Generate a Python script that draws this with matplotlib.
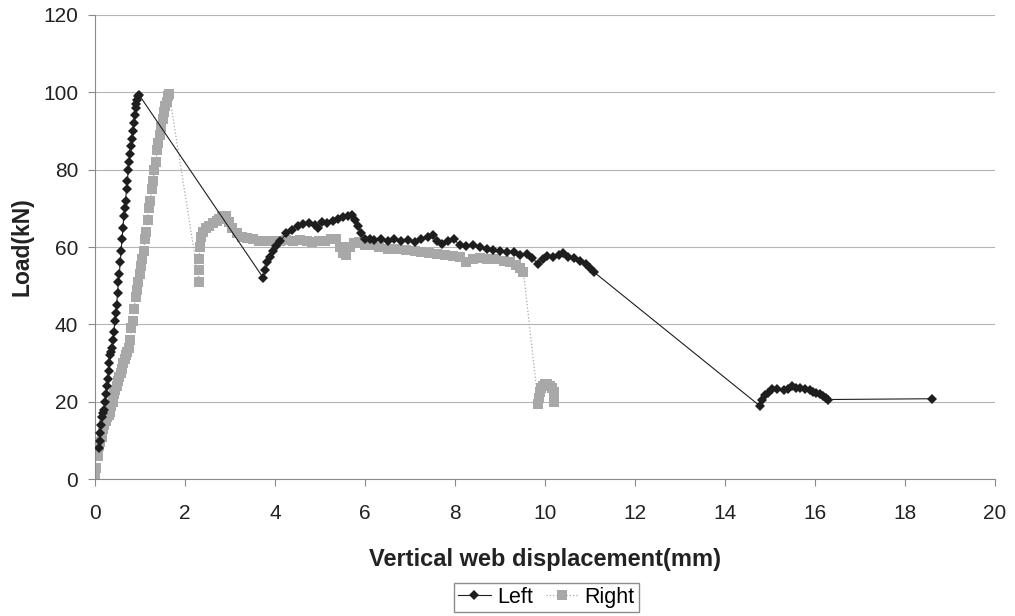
import matplotlib.pyplot as plt

plt.rcParams['font.family'] = ['Liberation Sans', 'DejaVu Sans']

# Left web displacement (mm) and load (kN)
left_x = [0.08, 0.10, 0.12, 0.14, 0.16, 0.18, 0.20, 0.22, 0.24, 0.26, 0.28, 0.30,
          0.32, 0.34, 0.36, 0.38, 0.40, 0.42, 0.44, 0.46, 0.48, 0.50, 0.52, 0.54,
          0.56, 0.58, 0.60, 0.62, 0.64, 0.66, 0.68, 0.70, 0.72, 0.74, 0.76, 0.78,
          0.80, 0.82, 0.84, 0.86, 0.88, 0.90, 0.92, 0.94, 0.96, 0.98,
          3.74, 3.78, 3.83, 3.88, 3.95, 4.02, 4.12, 4.25, 4.38, 4.50, 4.62, 4.75,
          4.88, 4.95, 5.05, 5.15, 5.28, 5.40, 5.52, 5.62, 5.72, 5.78, 5.85, 5.92,
          6.00, 6.10, 6.20, 6.35, 6.50, 6.65, 6.80, 6.95, 7.10, 7.25, 7.40, 7.50,
          7.60, 7.72, 7.85, 7.98, 8.10, 8.25, 8.40, 8.55, 8.70, 8.85, 9.00, 9.15,
          9.30, 9.45, 9.60, 9.72, 9.85, 9.95, 10.05, 10.18, 10.30, 10.40, 10.52,
          10.65, 10.78, 10.90, 11.00, 11.08,
          14.78, 14.82, 14.88, 14.95, 15.04, 15.15, 15.30, 15.40, 15.48, 15.58,
          15.66, 15.78, 15.88, 15.95, 16.02, 16.10, 16.18, 16.24, 16.28,
          18.60]
left_y = [8, 10, 12, 14, 16, 17, 18, 20, 22, 24, 26, 28,
          30, 32, 33, 34, 36, 38, 41, 43, 45, 48, 51, 53,
          56, 59, 62, 65, 68, 70, 72, 75, 77, 80, 82, 84,
          86, 88, 90, 92, 94, 96, 97, 98, 99, 99.3,
          52, 54, 56, 57.5, 59, 60.2, 61.5, 63.5, 64.5, 65.5, 66, 66.3,
          65.8, 64.8, 66.5, 66.2, 66.8, 67.2, 67.8, 68, 68.4, 67, 65.5, 63.5,
          62.2, 62, 61.8, 62, 61.5, 62, 61.5, 61.8, 61.2, 62, 62.6, 63.2,
          61.5, 60.8, 61.5, 62, 60.5, 60.2, 60.6, 60, 59.6, 59.2, 59, 58.6,
          58.6, 58, 58.2, 57.2, 55.5, 57, 57.6, 57.5, 58, 58.5, 57.4,
          57.2, 56.5, 55.5, 54.5, 53.6,
          18.9, 20.5, 21.8, 22.4, 23.2, 23.4, 23, 23.3, 24, 23.6,
          23.7, 23.2, 23, 22.6, 22.2, 22, 21.4, 21, 20.6,
          20.8]

# Right web displacement (mm) and load (kN)
right_x = [0.00, 0.03, 0.06, 0.09, 0.12, 0.15, 0.18, 0.21, 0.24, 0.27,
           0.30, 0.33, 0.36, 0.39, 0.42, 0.45, 0.48, 0.51, 0.54, 0.57,
           0.60, 0.63, 0.66, 0.69, 0.72, 0.75, 0.78, 0.81, 0.84, 0.87,
           0.90, 0.93, 0.96, 0.99, 1.02, 1.05, 1.08, 1.11, 1.14, 1.17,
           1.20, 1.23, 1.26, 1.29, 1.32, 1.35, 1.38, 1.41, 1.44, 1.47,
           1.50, 1.53, 1.56, 1.59, 1.62, 1.65,
           2.31, 2.31, 2.32, 2.33, 2.36, 2.40, 2.46, 2.54, 2.62, 2.70, 2.76, 2.83,
           2.90, 2.97, 3.05, 3.15, 3.27, 3.38, 3.50, 3.65, 3.80, 3.95, 4.10, 4.25,
           4.40, 4.55, 4.70, 4.83, 4.98, 5.12, 5.25, 5.36, 5.45, 5.52, 5.58, 5.66,
           5.75, 5.87, 6.00, 6.15, 6.32, 6.50, 6.70, 6.90, 7.10, 7.25, 7.43, 7.60,
           7.78, 7.95, 8.10, 8.25, 8.40, 8.55, 8.70, 8.92, 9.08, 9.22, 9.35, 9.45,
           9.52,
           9.85, 9.86, 9.88, 9.91, 9.95, 10.00, 10.05, 10.10, 10.15, 10.19, 10.21,
           10.21]
right_y = [0.5, 3, 6, 8.5, 9.5, 11, 13, 14, 15, 16,
           16.5, 17.5, 19, 20, 22, 23, 24, 25.5, 26.5, 27.5,
           28.5, 30, 31, 32, 33, 34, 36, 39, 41, 44,
           47, 49, 51, 53, 55, 57, 59, 62, 64, 67,
           70, 72, 75, 77, 80, 82, 85, 87, 89, 91,
           93, 95, 96.5, 97.5, 99, 99.5,
           51, 54, 57, 60, 62.5, 64, 65, 65.5, 66.2, 66.8, 67.3, 68,
           68, 66.5, 65, 63.5, 62.5, 62.3, 62, 61.6, 61.5, 61.5, 61.5, 61.8,
           61.5, 61.8, 61.5, 61.4, 61.5, 61.6, 62.2, 62, 60, 58.5, 58, 60,
           61, 61.2, 60.5, 60.5, 60, 59.6, 59.5, 59.2, 59, 58.8, 58.5, 58.3,
           58, 57.6, 57.4, 56, 57, 57.2, 57, 56.8, 56.5, 56, 55.4, 54.6,
           53.6,
           19.5, 21, 22.5, 23.5, 24.2, 24.5, 24.5, 24.2, 23.5, 22.5, 21.2,
           20]

fig = plt.figure(figsize=(10.15, 6.16), dpi=100)
ax = fig.add_axes([0.0936, 0.222, 0.8867, 0.754])

ax.plot(right_x, right_y, color='#a8a8a8', linestyle=':', linewidth=0.9,
        marker='s', markersize=6.5, markeredgewidth=0, label='Right', zorder=2)
ax.plot(left_x, left_y, color='#1e1e1e', linestyle='-', linewidth=0.8,
        marker='D', markersize=5.2, markeredgewidth=0, label='Left', zorder=3)

ax.set_xlim(0, 20)
ax.set_ylim(0, 120)
ax.set_xticks(range(0, 21, 2))
ax.set_yticks(range(0, 121, 20))
ax.grid(axis='y', color='#b4b4b4', linewidth=0.8)
ax.set_axisbelow(True)
for side in ['top', 'right']:
    ax.spines[side].set_visible(False)
for side in ['left', 'bottom']:
    ax.spines[side].set_color('#8a8a8a')
ax.tick_params(axis='x', direction='out', length=5, color='#8a8a8a', labelsize=15,
               pad=13, labelcolor='#222222')
ax.tick_params(axis='y', direction='out', length=5, color='#8a8a8a', labelsize=15,
               pad=7, labelcolor='#222222')

ax.set_xlabel('Vertical web displacement(mm)', fontsize=17, fontweight='bold',
              labelpad=18, color='#222222')
ax.set_ylabel('Load(kN)', fontsize=16.5, fontweight='bold', labelpad=7, color='#222222')

handles, labels = ax.get_legend_handles_labels()
fig.legend(handles[::-1], labels[::-1], loc='center', bbox_to_anchor=(0.5384, 0.030),
           ncol=2, frameon=True, fancybox=False, edgecolor='#707070', fontsize=15.5,
           handlelength=1.5, handletextpad=0.3, columnspacing=0.6, borderpad=0.2)

fig.savefig('out.png', dpi=100)
